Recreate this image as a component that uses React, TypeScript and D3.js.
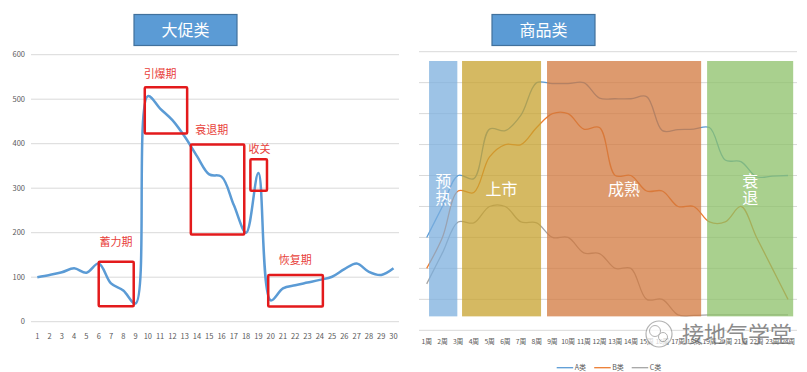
import * as d3 from "d3";

// ---- left chart: 大促类 ----
const promoDays = [1, 2, 3, 4, 5, 6, 7, 8, 9, 10, 11, 12, 13, 14, 15, 16, 17, 18, 19, 20, 21, 22, 23, 24, 25, 26, 27, 28, 29, 30];
const promoValues = [100, 105, 111, 120, 110, 131, 86, 70, 41, 507, 479, 453, 416, 372, 331, 326, 262, 200, 334, 48, 75, 82, 88, 94, 101, 118, 131, 112, 105, 120];
const promoTicks = [0, 100, 200, 300, 400, 500, 600];

// phase boxes: x in days, y in values
const phases = [
  { name: "蓄力期", x0: 6, x1: 8.85, y0: 35, y1: 135, lx: 7.4, ly: 178 },
  { name: "引爆期", x0: 9.75, x1: 13.2, y0: 423, y1: 527, lx: 11, ly: 556 },
  { name: "衰退期", x0: 13.5, x1: 17.85, y0: 196, y1: 398, lx: 15.2, ly: 431 },
  { name: "收关", x0: 18.35, x1: 19.7, y0: 294, y1: 365, lx: 19.1, ly: 388 },
  { name: "恢复期", x0: 19.8, x1: 24.25, y0: 34, y1: 105, lx: 22, ly: 139 },
];

// ---- right chart: 商品类 ----
const weeks = ["1周", "2周", "3周", "4周", "5周", "6周", "7周", "8周", "9周", "10周", "11周", "12周", "13周", "14周", "15周", "16周", "17周", "18周", "19周", "20周", "21周", "22周", "23周", "24周"];
const seriesA = [3.0, 4.0, 5.0, 4.9, 6.5, 6.45, 6.95, 8.0, 7.97, 7.97, 8.0, 7.5, 7.48, 7.48, 7.55, 6.45, 6.48, 6.5, 6.55, 5.5, 5.45, 4.96, 4.98, 5.0];
const seriesB = [2.0, 3.0, 4.5, 4.45, 5.6, 6.0, 6.0, 6.55, 7.0, 7.0, 6.5, 6.55, 5.0, 5.0, 4.5, 4.5, 4.0, 4.0, 3.5, 3.5, 4.0, 3.0, 2.0, 1.0];
const seriesC = [1.5, 2.5, 3.5, 3.47, 4.0, 4.0, 3.5, 3.47, 3.0, 3.0, 2.5, 2.48, 2.0, 2.0, 1.0, 1.0, 0.5, 0.48, 0.5, 0.5, 0.5, 0.5, 0.5, 0.5];
const seriesNames = ["A类", "B类", "C类"];
const seriesColors = ["#5B9BD5", "#ED7D31", "#A5A5A5"];
const goodsGrid = [0, 1, 2, 3, 4, 5, 6, 7, 8, 9];

// stage bands, in week index units (0 = 1周)
const stages = [
  { name: "预热", i0: 0.15, i1: 1.95, color: "rgb(124,175,222)", vertical: true },
  { name: "上市", i0: 2.25, i1: 7.28, color: "rgb(199,162,46)", vertical: false },
  { name: "成熟", i0: 7.66, i1: 17.47, color: "rgb(210,120,62)", vertical: false },
  { name: "衰退", i0: 17.85, i1: 23.33, color: "rgb(140,192,104)", vertical: true },
];

const W = 807;
const H = 372;
const FONT = "'Noto Sans CJK SC', 'Noto Sans', sans-serif";

export default function App() {
  // left scales
  const xL = d3.scaleLinear().domain([1, 30]).range([37.3, 393.5]);
  const yL = d3.scaleLinear().domain([0, 600]).range([321.7, 54.7]);
  const lineL = d3
    .line<number>()
    .x((_, i) => xL(promoDays[i]))
    .y((d) => yL(d))
    .curve(d3.curveCatmullRom.alpha(0.5));

  // right scales
  const xR = d3.scaleLinear().domain([0, 23]).range([426.7, 788]);
  const yR = d3.scaleLinear().domain([0, 9]).range([330.3, 51.7]);
  const lineR = d3
    .line<number>()
    .x((_, i) => xR(i))
    .y((d) => yR(d))
    .curve(d3.curveCatmullRom.alpha(0.5));
  const series = [seriesA, seriesB, seriesC];

  return (
    <svg width={W} height={H} style={{ position: "absolute", left: 0, top: 0, background: "#fff" }} fontFamily={FONT}>
      {/* ===== left ===== */}
      {promoTicks.map((t) => (
        <g key={t}>
          <line x1={31} x2={399} y1={yL(t)} y2={yL(t)} stroke="#D9D9D9" strokeWidth={1} />
          <text x={25} y={yL(t)} dy="0.35em" textAnchor="end" fontSize={7.5} fill="#595959">
            {t}
          </text>
        </g>
      ))}
      {promoDays.map((d) => (
        <text key={d} x={xL(d)} y={336} dy="0.35em" textAnchor="middle" fontSize={7.5} fill="#595959">
          {d}
        </text>
      ))}
      <path d={lineL(promoValues) || ""} fill="none" stroke="#5B9BD5" strokeWidth={2.5} />
      {phases.map((p) => (
        <g key={p.name}>
          <rect
            x={xL(p.x0)}
            y={yL(p.y1)}
            width={xL(p.x1) - xL(p.x0)}
            height={yL(p.y0) - yL(p.y1)}
            fill="none"
            stroke="#E31A1C"
            strokeWidth={2.5}
            rx={1}
          />
          <text x={xL(p.lx)} y={yL(p.ly)} dy="0.35em" textAnchor="middle" fontSize={11} fill="#E8413A">
            {p.name}
          </text>
        </g>
      ))}
      <rect x={134} y={14.5} width={103} height={31} fill="#5B9BD5" stroke="#41719C" strokeWidth={1.2} />
      <text x={185.5} y={30} dy="0.36em" textAnchor="middle" fontSize={16} fill="#fff">
        大促类
      </text>

      {/* ===== right ===== */}
      {goodsGrid.map((g) => (
        <line key={g} x1={419} x2={797} y1={yR(g)} y2={yR(g)} stroke="#D9D9D9" strokeWidth={1} />
      ))}
      {series.map((s, k) => (
        <path key={k} d={lineR(s) || ""} fill="none" stroke={seriesColors[k]} strokeWidth={1.3} />
      ))}
      {stages.map((s) => (
        <rect
          key={s.name}
          x={xR(s.i0)}
          y={yR(8.7)}
          width={xR(s.i1) - xR(s.i0)}
          height={yR(0.45) - yR(8.7)}
          fill={s.color}
          fillOpacity={0.75}
        />
      ))}
      {stages.map((s) => {
        const cx = (xR(s.i0) + xR(s.i1)) / 2;
        const cy = yR(4.55);
        const chars = s.vertical ? s.name.split("") : [s.name];
        return chars.map((c, j) => (
          <text
            key={s.name + j}
            x={cx}
            y={cy + (chars.length > 1 ? (j - 0.5) * 17 : 0)}
            dy="0.36em"
            textAnchor="middle"
            fontSize={16}
            fill="#fff"
          >
            {c}
          </text>
        ));
      })}
      {weeks.map((w, i) => (
        <text key={w} x={xR(i)} y={341.7} dy="0.35em" textAnchor="middle" fontSize={6.8} letterSpacing={-0.2} fill="#595959">
          {w}
        </text>
      ))}
      {seriesNames.map((n, k) => {
        const x0 = 556.7 + k * 37.5;
        return (
          <g key={n}>
            <line x1={x0} x2={x0 + 16.5} y1={367.7} y2={367.7} stroke={seriesColors[k]} strokeWidth={1.3} />
            <text x={x0 + 18} y={367.7} dy="0.35em" fontSize={7} fill="#595959">
              {n}
            </text>
          </g>
        );
      })}
      <rect x={492} y={14.5} width={103} height={31} fill="#5B9BD5" stroke="#41719C" strokeWidth={1.2} />
      <text x={543.5} y={30} dy="0.36em" textAnchor="middle" fontSize={16} fill="#fff">
        商品类
      </text>

      {/* watermark */}
      <g opacity={0.75}>
        <circle cx={659} cy={334} r={13} fill="#fff" stroke="#9A9A9A" strokeWidth={1.2} />
        <circle cx={655} cy={331} r={5.5} fill="none" stroke="#9A9A9A" strokeWidth={1} />
        <circle cx={663} cy={337} r={4.5} fill="none" stroke="#9A9A9A" strokeWidth={1} />
        <text x={682} y={334} dy="0.36em" fontSize={22} fill="#666" stroke="#fff" strokeWidth={0.8} paintOrder="stroke">
          接地气学堂
        </text>
      </g>
    </svg>
  );
}
